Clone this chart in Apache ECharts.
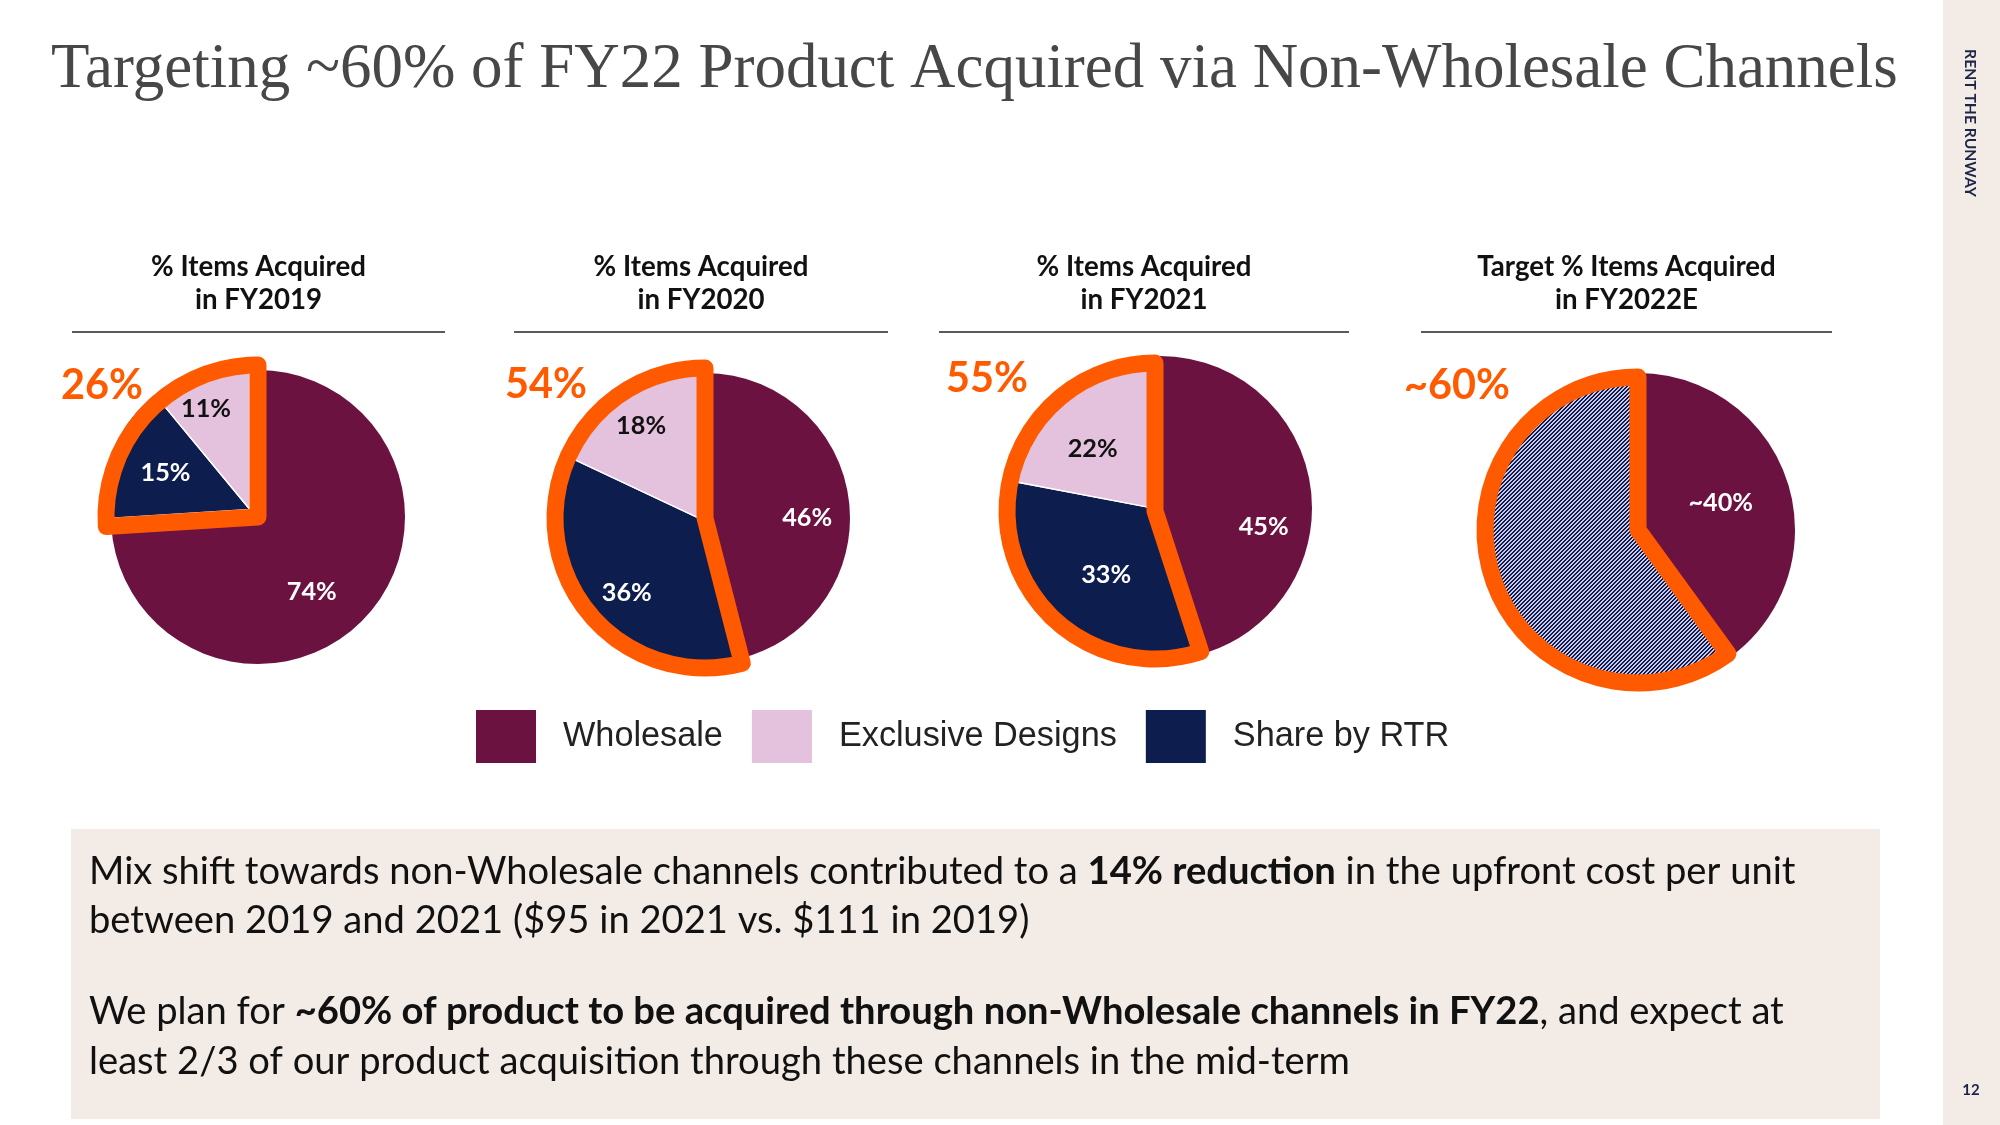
<!DOCTYPE html>
<html><head><meta charset="utf-8">
<script src="https://cdn.jsdelivr.net/npm/echarts@6/dist/echarts.min.js"></script>
<style>html,body{margin:0;padding:0;background:#fff}#c{width:2000px;height:1125px}</style>
</head><body><div id="c"></div><script>
// ---------- DATA ----------
const pageTitle = 'Targeting ~60% of FY22 Product Acquired via Non-Wholesale Channels';
const chartTitles = [['% Items Acquired','in FY2019'],['% Items Acquired','in FY2020'],['% Items Acquired','in FY2021'],['Target % Items Acquired','in FY2022E']];
const wholesale = [74, 46, 45, 40];
const shareByRTR = [15, 36, 33, null];
const exclusiveDesigns = [11, 18, 22, null];
const nonWholesaleTarget = [null, null, null, 60];
const nonWholesaleTotal = [26, 54, 55, 60];
const approx = [false, false, false, true];
const legendNames = ['Wholesale', 'Exclusive Designs', 'Share by RTR'];
const noteLine1 = ['Mix shift towards non-Wholesale channels contributed to a ', '14% reduction', ' in the upfront cost per unit'];
const noteLine2 = 'between 2019 and 2021 ($95 in 2021 vs. $111 in 2019)';
const noteLine3 = ['We plan for ', '~60% of product to be acquired through non-Wholesale channels in FY22', ', and expect at'];
const noteLine4 = 'least 2/3 of our product acquisition through these channels in the mid-term';
const brand = 'RENT THE RUNWAY';
const pageNum = '12';

// ---------- STYLE / LAYOUT ----------
const C_WH = '#6c1240', C_EX = '#e4c1dc', C_SH = '#0c1d4e', C_OR = '#ff5a00';
const centers = [[258,517],[705,518],[1160,508],[1638,530]];
const radii = [147,145,152,157];
const explode = [11,5,4,3];
const outlineR = [152,150,148,153];
const outlineShift = [[0,0],[0,0],[-5,3],[0,0]];
const labelDist = [[90,89,106],[100,105,107],[102,83,87],[84,0,0]];
const labelOff = [[[-14,11],[0,0],[-7,2]],[[0,13],[10,5],[0,0]],[[0,35],[7,2],[-6,10]],[[0,0],[0,0],[0,0]]];
const calloutPos = [[102,386],[546,385],[987,379],[1457,386]];
const ruleX = [[72,445],[514,888],[939,1349],[1421,1832]];

const mctx = document.createElement('canvas').getContext('2d');
function tw(text, size, family, weight){ mctx.font = (weight||'normal') + ' ' + size + 'px ' + family; return mctx.measureText(text).width; }
function fit(text, family, weight, target){ return 100 * target / tw(text, 100, family, weight); }

const titleSize = fit(pageTitle, 'Liberation Serif', 'normal', 1847);
const subTitleSize = fit('% Items Acquired', 'Lato', 'bold', 215);
const calloutSize = fit('26%', 'Lato', 'bold', 82);
const sliceSize = fit('74%', 'Lato', 'bold', 50);
const legendSize = fit('Exclusive Designs', 'Liberation Sans', 'normal', 278);
const noteSize = 100 * 1707 / (tw(noteLine1[0],100,'Lato','normal') + tw(noteLine1[1],100,'Lato','bold') + tw(noteLine1[2],100,'Lato','normal'));
const brandSize = fit(brand, 'Lato', 'bold', 148);

// hatch pattern
const pc = document.createElement('canvas'); pc.width = 4; pc.height = 4;
const pctx = pc.getContext('2d'); const img = pctx.createImageData(4,4);
for (let y=0;y<4;y++) for (let x=0;x<4;x++){
  const i=(y*4+x)*4; const dark = ((x+y)%4) < 2;
  img.data[i]=dark?14:203; img.data[i+1]=dark?28:199; img.data[i+2]=dark?78:234; img.data[i+3]=255;
}
pctx.putImageData(img,0,0);
const hatch = {image: pc, repeat: 'repeat'};

function pie(o){ return Object.assign({type:'pie', silent:true, animation:false, startAngle:90, clockwise:true,
  label:{show:false}, labelLine:{show:false}, emphasis:{disabled:true}, avoidLabelOverlap:false, minAngle:0}, o); }
function vec(a){ const r=a*Math.PI/180; return [Math.sin(r), -Math.cos(r)]; }

const series = [];
for (let i=0;i<4;i++){
  const [cx,cy] = centers[i];
  const slices = approx[i] ? [
    {name:'Wholesale', value: wholesale[i], color: C_WH, fg:'#fff', text:'~' + wholesale[i] + '%'},
    {name:'Non-Wholesale', value: nonWholesaleTarget[i], color: hatch, fg:'#fff', text:null}
  ] : [
    {name:'Wholesale', value: wholesale[i], color: C_WH, fg:'#fff', text: wholesale[i] + '%'},
    {name:'Share by RTR', value: shareByRTR[i], color: C_SH, fg:'#fff', text: shareByRTR[i] + '%'},
    {name:'Exclusive Designs', value: exclusiveDesigns[i], color: C_EX, fg:'#111', text: exclusiveDesigns[i] + '%'}
  ];
  const total = wholesale[i] + nonWholesaleTotal[i];
  const bis = 360 * (wholesale[i] + nonWholesaleTotal[i]/2) / total;
  const v = vec(bis);
  const sc = [cx + explode[i]*v[0], cy + explode[i]*v[1]];
  const oc = [cx + outlineShift[i][0], cy + outlineShift[i][1]];
  series.push(pie({center:[cx,cy], radius: radii[i], z:2,
    data: slices.map((s,k)=>({name:s.name, value:s.value, itemStyle:{color: k===0 ? s.color : 'transparent', borderWidth:0}}))}));
  series.push(pie({center: sc, radius: outlineR[i]-2, z:3,
    data: slices.map((s,k)=>({name:s.name, value:s.value, itemStyle: k===0 ? {color:'transparent', borderWidth:0} : {color:s.color, borderColor:'#ffffff', borderWidth:1.5}}))}));
  series.push(pie({center: oc, radius: outlineR[i], z:4,
    data: [{name:'Wholesale', value: wholesale[i], itemStyle:{color:'transparent', borderWidth:0}},
           {name:'Non-Wholesale', value: nonWholesaleTotal[i], itemStyle:{color:'transparent', borderColor:C_OR, borderWidth:17, borderJoin:'round'}}]}));
  slices.forEach((s,k)=>{
    if (!s.text) return;
    const c = k===0 ? [cx,cy] : sc;
    series.push(pie({center:c, radius:[0, 2*labelDist[i][k]], z:5,
      data: slices.map((t,j)=>({name:t.name, value:t.value, itemStyle:{color:'transparent', borderWidth:0},
        label:{show: j===k, position:'inside', formatter: s.text, color: s.fg, fontSize: sliceSize, fontWeight:'bold', fontFamily:'Lato', offset: labelOff[i][k]}}))}));
  });
}

const graphic = [];
graphic.push({type:'text', x:51, y:70, style:{text: pageTitle, fontSize:titleSize, fontFamily:'Liberation Serif', fill:'#474747', align:'left', verticalAlign:'middle', textAlign:'left', textVerticalAlign:'middle'}});
graphic.push({type:'rect', shape:{x:1943, y:0, width:57, height:1125}, style:{fill:'#f3ece6'}});
graphic.push({type:'text', x:1970, y:123, rotation:-Math.PI/2, style:{text: brand, fontSize:brandSize, fontWeight:'bold', fontFamily:'Lato', fill:'#1c2447', align:'center', verticalAlign:'middle', textAlign:'center', textVerticalAlign:'middle'}});
graphic.push({type:'text', x:1971, y:1090, style:{text: pageNum, fontSize:15, fontWeight:'bold', fontFamily:'Lato', fill:'#1c2447', align:'center', verticalAlign:'middle', textAlign:'center', textVerticalAlign:'middle'}});
for (let i=0;i<4;i++){
  const mx = (ruleX[i][0] + ruleX[i][1]) / 2;
  graphic.push({type:'text', x:mx, y:267, style:{text: chartTitles[i][0], fontSize:subTitleSize, fontWeight:'bold', fontFamily:'Lato', fill:'#111', align:'center', verticalAlign:'middle', textAlign:'center', textVerticalAlign:'middle'}});
  graphic.push({type:'text', x:mx, y:300, style:{text: chartTitles[i][1], fontSize:subTitleSize, fontWeight:'bold', fontFamily:'Lato', fill:'#111', align:'center', verticalAlign:'middle', textAlign:'center', textVerticalAlign:'middle'}});
  graphic.push({type:'line', shape:{x1:ruleX[i][0], y1:332, x2:ruleX[i][1], y2:332}, style:{stroke:'#5a5a5a', lineWidth:2}});
  graphic.push({type:'text', x:calloutPos[i][0], y:calloutPos[i][1], z:10, style:{text: (approx[i]?'~':'') + nonWholesaleTotal[i] + '%', fontSize:calloutSize, fontWeight:'bold', fontFamily:'Lato', fill:C_OR, align:'center', verticalAlign:'middle', textAlign:'center', textVerticalAlign:'middle'}});
}
graphic.push({type:'rect', shape:{x:71, y:829, width:1809, height:290}, style:{fill:'#f3ece6'}});
const noteStyle = (txt, y) => ({type:'text', x:89, y:y, style:{text: txt, fontSize:noteSize, fontFamily:'Lato', fill:'#111', align:'left', verticalAlign:'middle', textAlign:'left', textVerticalAlign:'middle',
  rich:{b:{fontSize:noteSize, fontFamily:'Lato', fontWeight:'bold', fill:'#111'}}}});
graphic.push(noteStyle(noteLine1[0] + '{b|' + noteLine1[1] + '}' + noteLine1[2], 872));
graphic.push(noteStyle(noteLine2, 921));
graphic.push(noteStyle(noteLine3[0] + '{b|' + noteLine3[1] + '}' + noteLine3[2], 1012));
graphic.push(noteStyle(noteLine4, 1062));

const chart = echarts.init(document.getElementById('c'), null, {renderer:'canvas'});
chart.setOption({
  backgroundColor:'#ffffff',
  animation:false,
  legend:{left:476, top:710, padding:0, icon:'rect', itemWidth:60, itemHeight:53, itemGap:29, selectedMode:false,
    textStyle:{fontFamily:'Liberation Sans', fontSize:legendSize, color:'#222', padding:[0,0,0,22]},
    data:[{name:legendNames[0], itemStyle:{color:C_WH}}, {name:legendNames[1], itemStyle:{color:C_EX}}, {name:legendNames[2], itemStyle:{color:C_SH}}]},
  series: series,
  graphic: graphic
});
</script></body></html>
